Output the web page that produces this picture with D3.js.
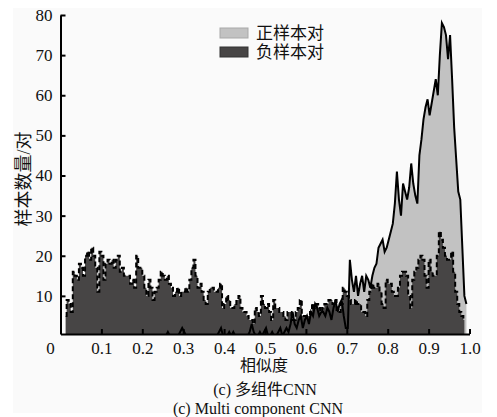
<!DOCTYPE html>
<html>
<head>
<meta charset="utf-8">
<script src="https://cdn.jsdelivr.net/npm/d3@7"></script>
<style>
  body { margin: 0; background: #fff; }
  svg text { font-family: "Liberation Serif", "Noto Sans CJK SC", serif; fill: #111; }
  .axis path, .axis line { stroke: #000; stroke-width: 2px; }
</style>
</head>
<body>
<svg width="497" height="417"></svg>
<script>
// histogram bins of width 0.005 on [0, 1), bin i centred at (i + 0.5) * 0.005
var binWidth = 0.005;

// 正样本对 counts, bins 0..198
var posCounts = [
  0,0,0,0,0,0,0,0,0,0,  0,0,0,0,0,0,0,0,0,0,
  0,0,0,0,0,0,0,0,0,0,  0,0,0,0,0,0,0,0,0,0,
  0,0,0,0,0,0,0,0,0,0,  0,0,1,0,0,0,0,0,1,2,
  1,0,0,0,0,0,0,0,0,0,  0,0,0,0,0,0,0,1,2,0,
  0,0,1,0,1,0,0,0,0,0,  0,0,1,3,1,0,0,1,0,1,
  2,0,0,1,0,0,1,2,0,1,  2,1,3,6,3,2,4,5,2,4,
  5,3,6,5,8,7,5,6,6,5,  7,6,4,7,9,6,8,9,5,2,
  2,19,14,11,15,10,13,15,11,15,  14,12,15,17,18,22,23,24,21,22,
  24,26,28,33,41,34,30,38,36,34,  37,43,38,35,33,45,49,54,57,59,
  55,58,61,64,60,70,78,77,75,69,  75,64,52,44,36,34,22,10,8
];

// 负样本对 counts, bins 0..198 (null = no bar)
var negCounts = [
  null,null,5,9,8,6,16,15,14,18,  17,15,20,21,19,22,20,17,11,21,
  20,14,18,19,18,19,17,19,20,16,  17,15,15,15,13,14,12,20,17,17,
  15,12,10,14,12,9,11,12,14,16,  15,14,15,13,12,10,11,12,10,11,
  11,12,11,14,17,19,15,12,13,11,  9,8,11,12,12,11,11,12,13,7,
  8,10,9,7,7,8,9,10,7,6,  6,5,4,4,3,7,6,5,10,8,
  7,8,6,4,9,7,7,6,6,5,  4,6,6,4,4,6,7,9,5,5,
  5,5,6,8,7,8,7,6,7,8,  8,9,9,8,9,6,6,8,12,11,
  10,9,8,8,9,8,8,6,6,5,  9,11,13,12,12,13,11,8,7,14,
  13,13,11,10,10,12,15,16,16,15,  10,7,14,16,17,19,20,19,15,12,
  19,16,15,15,20,26,24,22,20,19,  19,21,16,11,8,6,5,4,null
];

var xTicks = [0.1, 0.2, 0.3, 0.4, 0.5, 0.6, 0.7, 0.8, 0.9, 1.0];
var yTicks = [10, 20, 30, 40, 50, 60, 70, 80];
var legendLabels = ["正样本对", "负样本对"];

var svg = d3.select("svg");

// light page panel behind the figure
svg.append("rect")
    .attr("x", 13).attr("y", 8)
    .attr("width", 469).attr("height", 405)
    .attr("fill", "#fafafa");

var x = d3.scaleLinear().domain([0, 1]).range([60.5, 469.5]),
    y = d3.scaleLinear().domain([0.5, 80]).range([334, 15]);

function binX(i) { return x((i + 0.5) * binWidth); }

var pos = posCounts.map(function (c, i) { return {i: i, c: c}; }),
    neg = negCounts.map(function (c, i) { return {i: i, c: c}; });

svg.append("defs").append("clipPath")
    .attr("id", "clip")
    .append("rect")
    .attr("x", x(0)).attr("y", y(80) - 5)
    .attr("width", x(1) - x(0) + 2)
    .attr("height", y(0.5) - y(80) + 5);

var plot = svg.append("g").attr("clip-path", "url(#clip)");

var posArea = d3.area()
    .x(function (d) { return binX(d.i); })
    .y0(y(0))
    .y1(function (d) { return y(d.c); });

var posLine = d3.line()
    .x(function (d) { return binX(d.i); })
    .y(function (d) { return y(d.c); });

var negArea = d3.area()
    .defined(function (d) { return d.c != null; })
    .curve(d3.curveStep)
    .x(function (d) { return binX(d.i); })
    .y0(y(0))
    .y1(function (d) { return y(d.c); });

var negLine = d3.line()
    .defined(function (d) { return d.c != null; })
    .curve(d3.curveStep)
    .x(function (d) { return binX(d.i); })
    .y(function (d) { return y(d.c); });

plot.append("path").datum(pos)
    .attr("fill", "#c2c2c2")
    .attr("d", posArea);

plot.append("path").datum(neg)
    .attr("fill", "#474545")
    .attr("d", negArea);

plot.append("path").datum(neg)
    .attr("fill", "none")
    .attr("stroke", "#000")
    .attr("stroke-width", 2)
    .attr("stroke-dasharray", "5,3")
    .attr("d", negLine);

plot.append("path").datum(pos)
    .attr("fill", "none")
    .attr("stroke", "#000")
    .attr("stroke-width", 2)
    .attr("stroke-linejoin", "miter")
    .attr("d", posLine);

// axes, ticks pointing inwards
var xAxis = d3.axisBottom(x)
    .tickValues(xTicks)
    .tickFormat(d3.format(".1f"))
    .tickSizeInner(-5).tickSizeOuter(0).tickPadding(8);

var yAxis = d3.axisLeft(y)
    .tickValues(yTicks)
    .tickSizeInner(-5).tickSizeOuter(0).tickPadding(8);

var gx = svg.append("g")
    .attr("class", "axis")
    .attr("transform", "translate(0," + y(0.5) + ")")
    .call(xAxis);

var gy = svg.append("g")
    .attr("class", "axis")
    .attr("transform", "translate(" + x(0) + ",0)")
    .call(yAxis);

svg.selectAll(".axis text")
    .style("font-size", "17px")
    .attr("fill", "#111");

// the shared "0" at the corner
svg.append("text")
    .attr("x", x(0) - 10).attr("y", y(0.5) + 20)
    .attr("text-anchor", "middle")
    .style("font-size", "17px")
    .text("0");

// legend
var legend = svg.append("g").attr("transform", "translate(220,28)");
var swatch = [{fill: "#c2c2c2", stroke: "#a8a8a8"}, {fill: "#474545", stroke: "#333"}];
legendLabels.forEach(function (t, k) {
    legend.append("rect")
        .attr("x", 0).attr("y", k * 19)
        .attr("width", 28).attr("height", 10)
        .attr("fill", swatch[k].fill)
        .attr("stroke", swatch[k].stroke);
    legend.append("text")
        .attr("x", 36).attr("y", k * 19 + 11)
        .style("font-size", "17px")
        .text(t);
});

// labels
svg.append("text")
    .attr("transform", "translate(30,179) rotate(-90)")
    .attr("text-anchor", "middle")
    .style("font-size", "18px")
    .text("样本数量/对");

svg.append("text")
    .attr("x", 264).attr("y", 371)
    .attr("text-anchor", "middle")
    .style("font-size", "16px")
    .text("相似度");

svg.append("text")
    .attr("x", 265).attr("y", 394.5)
    .attr("text-anchor", "middle")
    .style("font-size", "16px")
    .text("(c) 多组件CNN");

svg.append("text")
    .attr("x", 258).attr("y", 413.5)
    .attr("text-anchor", "middle")
    .style("font-size", "16px")
    .text("(c) Multi component CNN");
</script>
</body>
</html>
